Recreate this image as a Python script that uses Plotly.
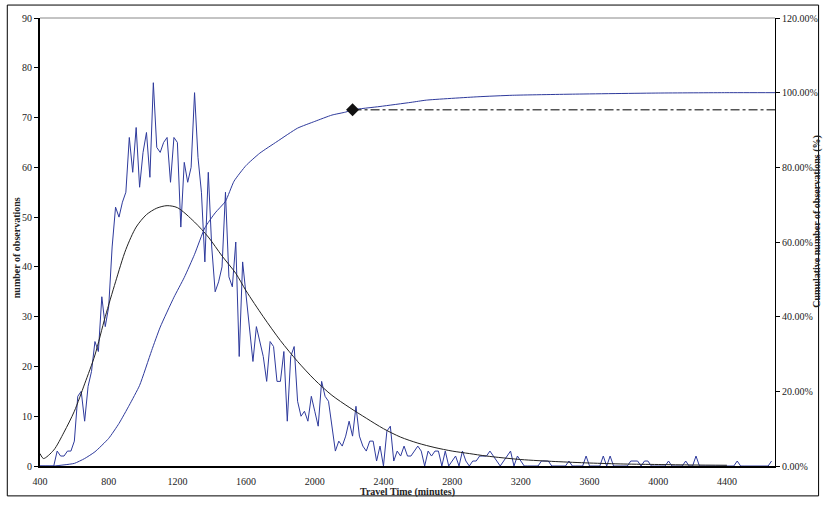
import plotly.graph_objects as go

# ---- data ----
bin_start = 400
bin_width = 20
observations = [
    0, 0, 0, 0, 0, 3, 2, 2, 3, 3,
    5, 14, 15, 9, 16, 19, 25, 23, 34, 28,
    32, 44, 52, 50, 53, 55, 66, 59, 68, 56,
    63, 67, 58, 77, 64, 63, 65, 66, 57, 66,
    65, 48, 61, 57, 60, 75, 62, 55, 41, 59,
    44, 35, 37, 40, 55, 38, 36, 45, 22, 41,
    34, 28, 21, 28, 25, 22, 17, 25, 24, 17,
    17, 23, 9, 22, 24, 13, 10, 11, 9, 14,
    11, 8, 17, 14, 13, 8, 3, 5, 4, 6,
    9, 6, 12, 6, 4, 3, 5, 5, 1, 4,
    0, 7, 8, 1, 3, 2, 4, 2, 2, 3,
    4, 3, 0, 3, 2, 3, 3, 0, 3, 0,
    1, 2, 0, 3, 1, 0, 1, 1, 2, 2,
    2, 3, 2, 1, 0, 1, 2, 3, 0, 2,
    1, 0, 0, 0, 0, 0, 1, 1, 1, 0,
    0, 0, 0, 0, 1, 0, 0, 0, 0, 2,
    0, 0, 0, 0, 2, 0, 2, 0, 0, 0,
    0, 0, 1, 1, 1, 0, 1, 1, 0, 0,
    0, 0, 0, 1, 0, 0, 0, 0, 1, 0,
    0, 2, 0, 0, 0, 0, 0, 0, 0, 0,
    0, 0, 0, 1, 0, 0, 0, 0, 0, 0,
    0, 0, 0, 1,
]
obs_minutes = [bin_start + bin_width * i for i in range(len(observations))]

fit_minutes = [400, 420, 480, 540, 600, 660, 720, 780, 840, 900, 960, 1020, 1080,
               1140, 1200, 1300, 1380, 1460, 1540, 1600, 1700, 1800, 1900, 2000,
               2100, 2200, 2300, 2400, 2500, 2600, 2700, 2800, 2900, 3000, 3200,
               3400, 3600, 3800, 4000, 4200, 4400]
fit_values = [2.5, 1.5, 3.2, 6.8, 11, 16.5, 22.3, 30, 37, 43.5, 48, 50.5, 51.8,
              52.3, 51.9, 49, 46, 42.2, 38.7, 35.2, 30, 25.2, 21, 17.3,
              14.2, 11.8, 9.6, 7.5, 5.8, 4.6, 3.7, 3.0, 2.5, 2.0, 1.3,
              0.9, 0.6, 0.4, 0.3, 0.2, 0.15]

cum_minutes = [400, 480, 540, 600, 660, 720, 800, 860, 920, 980, 1050, 1100, 1180,
               1240, 1300, 1360, 1420, 1480, 1530, 1600, 1680, 1780, 1900, 2000,
               2100, 2180, 2220, 2380, 2560, 2650, 2950, 3150, 3500, 4000, 4400, 4680]
cum_percent = [0, 0, 0.3, 0.7, 2, 3.8, 7.4, 11.4, 16.3, 21.6, 30.9, 37.2, 45.2,
               50.5, 56.7, 63.8, 67.8, 70.9, 76.3, 80.5, 83.8, 86.9, 90.5, 92.3,
               94.0, 94.8, 95.4, 96.3, 97.4, 98.0, 98.9, 99.3, 99.6, 99.9, 100, 100]

mark_minute = 2220
mark_percent = 95.4
axis_end_minute = 4680

x_ticks = list(range(400, 4401, 400))
y2_ticks = [0, 20, 40, 60, 80, 100, 120]
y2_labels = [f"{v:.2f}%" for v in y2_ticks]

# ---- figure ----
BLUE = "#2E3A9C"
FONT = "Liberation Serif, Times New Roman, serif"

fig = go.Figure()
fig.add_trace(go.Scatter(x=obs_minutes, y=observations, mode="lines",
                         line=dict(color=BLUE, width=1), showlegend=False))
fig.add_trace(go.Scatter(x=fit_minutes, y=fit_values, mode="lines",
                         line=dict(color="#222222", width=1, shape="spline", smoothing=0.8),
                         showlegend=False))
fig.add_trace(go.Scatter(x=cum_minutes, y=cum_percent, mode="lines", yaxis="y2",
                         line=dict(color=BLUE, width=1, shape="spline", smoothing=0.5),
                         showlegend=False))
fig.add_trace(go.Scatter(x=[mark_minute, axis_end_minute], y=[mark_percent, mark_percent],
                         mode="lines", yaxis="y2",
                         line=dict(color="black", width=1, dash="dashdot"), showlegend=False))
fig.add_trace(go.Scatter(x=[mark_minute], y=[mark_percent], mode="markers", yaxis="y2",
                         marker=dict(symbol="diamond", size=10, color="#111111"),
                         showlegend=False))

fig.update_layout(
    width=830, height=505,
    margin=dict(l=40, r=48, t=16, b=39),
    paper_bgcolor="white", plot_bgcolor="white",
    font=dict(family=FONT, size=10, color="#222222"),
    xaxis=dict(range=[400, axis_end_minute], tickvals=x_ticks, ticks="",
               showline=True, linecolor="black", linewidth=2, showgrid=False,
               zeroline=False, ticklabelstandoff=5, tickfont=dict(size=10)),
    yaxis=dict(range=[0, 90], dtick=10, ticks="outside", ticklen=4, tickcolor="black",
               showline=True, linecolor="black", linewidth=2, showgrid=False,
               zeroline=False, tickfont=dict(size=10)),
    yaxis2=dict(range=[0, 120], tickvals=y2_ticks, ticktext=y2_labels, overlaying="y",
                side="right", ticks="outside", ticklen=4, tickcolor="black",
                showline=True, linecolor="black", linewidth=1, showgrid=False,
                zeroline=False, tickfont=dict(size=10)),
    shapes=[
        dict(type="line", xref="paper", yref="paper", x0=0, x1=1, y0=1, y1=1,
             line=dict(color="#888888", width=1)),
        dict(type="rect", xref="paper", yref="paper", x0=-0.0445, x1=1.0593,
             y0=-0.0667, y1=1.0289, line=dict(color="black", width=1)),
    ],
    annotations=[
        dict(text="<b>number of observations</b>", xref="paper", yref="paper",
             x=(17 - 40) / 742, y=(466 - 247) / 450, xanchor="center", yanchor="middle",
             textangle=-90, showarrow=False,
             font=dict(size=10, family=FONT, color="#222222")),
        dict(text="<b>Cumulative number of observations (%)</b>", xref="paper", yref="paper",
             x=(824 - 40) / 742, y=(466 - 220) / 450, xanchor="center", yanchor="middle",
             textangle=-90, showarrow=False,
             font=dict(size=10, family=FONT, color="#222222")),
        dict(text="<b>Travel Time (minutes)</b>", xref="paper", yref="paper",
             x=(411 - 40) / 742, y=(466 - 492) / 450, xanchor="center", yanchor="middle",
             showarrow=False,
             font=dict(size=10, family=FONT, color="#222222")),
    ],
)

fig.write_html("out.html")
